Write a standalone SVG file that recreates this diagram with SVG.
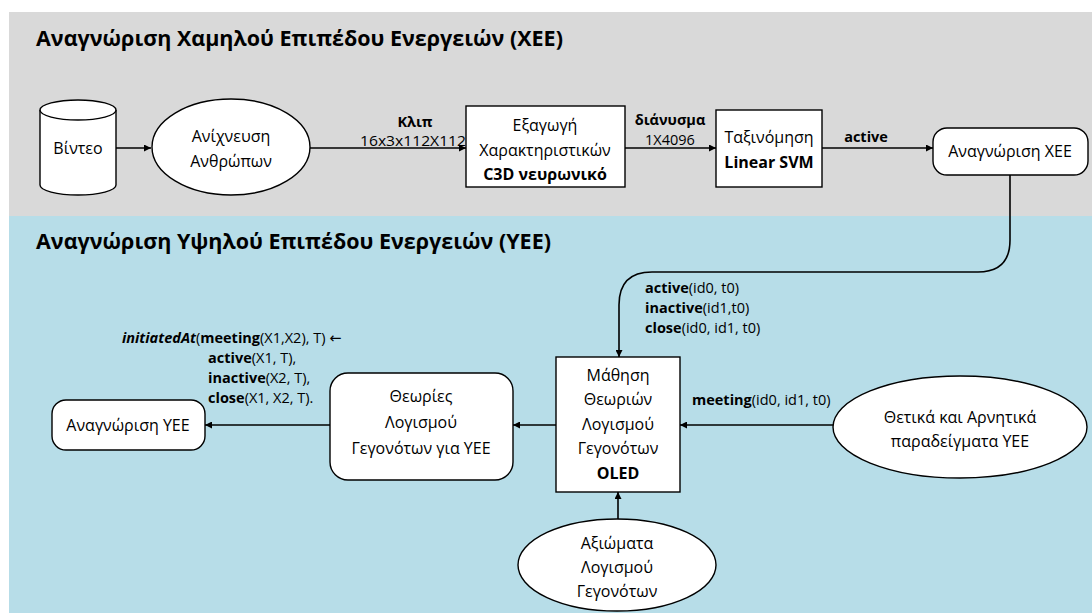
<svg xmlns="http://www.w3.org/2000/svg" width="1092" height="613" viewBox="0 0 1092 613">
<defs>
<marker id="ah" viewBox="0 0 10 10" refX="10" refY="5" markerWidth="7" markerHeight="7" markerUnits="userSpaceOnUse" orient="auto">
<path d="M0,0 L10,5 L0,10 z" fill="#000"/>
</marker>
<style>
.t{font-family:"Open Sans","Noto Sans","DejaVu Sans",sans-serif;font-size:16px;fill:#000;}
.c{text-anchor:middle;}
.b{font-weight:bold;}
.title{font-family:"Open Sans","Noto Sans","DejaVu Sans",sans-serif;font-size:21.5px;font-weight:bold;fill:#000;}
.lbl{font-family:"Open Sans","Noto Sans","DejaVu Sans",sans-serif;font-size:14.5px;fill:#000;}
.n{fill:#fff;stroke:#000;stroke-width:1.4;}
.e{fill:none;stroke:#000;stroke-width:1.6;marker-end:url(#ah);}
</style>
</defs>
<rect x="9" y="12" width="1083" height="204" fill="#d9d9d9"/>
<rect x="9" y="216" width="1083" height="397" fill="#b7dde8"/>
<text class="title" x="36" y="46">Αναγνώριση Χαμηλού Επιπέδου Ενεργειών (ΧΕΕ)</text>
<text class="title" x="36" y="249">Αναγνώριση Υψηλού Επιπέδου Ενεργειών (ΥΕΕ)</text>

<g id="connectors">
<line class="e" x1="116" y1="148" x2="151" y2="148"/>
<line class="e" x1="310" y1="148" x2="466" y2="148"/>
<line class="e" x1="625" y1="148" x2="716" y2="148"/>
<line class="e" x1="822" y1="148" x2="933" y2="148"/>
<path class="e" d="M1010,175 L1010,240 Q1010,272 978,272 L652,272 Q619,272 619,305 L619,357"/>
<line class="e" x1="833" y1="425" x2="680" y2="425"/>
<line class="e" x1="618" y1="519" x2="618" y2="492"/>
<line class="e" x1="556" y1="425" x2="513" y2="425"/>
<line class="e" x1="330" y1="425" x2="205" y2="425"/>
<text class="lbl b c" x="415" y="127">Κλιπ</text>
<text class="lbl c" x="413" y="146" textLength="106" lengthAdjust="spacingAndGlyphs">16x3x112X112</text>
<text class="lbl b c" x="670" y="125">διάνυσμα</text>
<text class="lbl c" x="670" y="145">1Χ4096</text>
<text class="lbl b c" x="866" y="142">active</text>
<text class="lbl" x="645" y="293"><tspan class="b">active</tspan>(id0, t0)</text>
<text class="lbl" x="645" y="313"><tspan class="b">inactive</tspan>(id1,t0)</text>
<text class="lbl" x="645" y="333"><tspan class="b">close</tspan>(id0, id1, t0)</text>
<text class="lbl" x="692" y="405"><tspan class="b">meeting</tspan>(id0, id1, t0)</text>
<text class="lbl" x="122" y="343"><tspan class="b" font-style="italic">initiatedAt</tspan>(<tspan class="b">meeting</tspan>(X1,X2), T) ←</text>
<text class="lbl" x="208" y="363"><tspan class="b">active</tspan>(X1, T),</text>
<text class="lbl" x="208" y="383"><tspan class="b">inactive</tspan>(X2, T),</text>
<text class="lbl" x="208" y="403"><tspan class="b">close</tspan>(X1, X2, T).</text>
</g>

<g id="video">
<path class="n" d="M40,110 L40,185 A38,10 0 0 0 116,185 L116,110 A38,10 0 0 0 40,110 z"/>
<path class="n" fill="none" d="M40,110 A38,10 0 0 0 116,110"/>
<text class="t c" x="78" y="154">Βίντεο</text>
</g>
<g id="detect">
<ellipse class="n" cx="231" cy="147" rx="79" ry="48"/>
<text class="t c" x="231" y="142">Ανίχνευση</text>
<text class="t c" x="231" y="167">Ανθρώπων</text>
</g>
<g id="extract">
<rect class="n" x="466" y="106" width="159" height="81"/>
<text class="t c" x="545" y="131">Εξαγωγή</text>
<text class="t c" x="545" y="156">Χαρακτηριστικών</text>
<text class="t c b" x="545" y="180">C3D νευρωνικό</text>
</g>
<g id="classify">
<rect class="n" x="716" y="110" width="106" height="77"/>
<text class="t c" x="769" y="143">Ταξινόμηση</text>
<text class="t c b" x="769" y="168">Linear SVM</text>
</g>
<g id="xee">
<rect class="n" x="933" y="128" width="155" height="47" rx="14"/>
<text class="t c" x="1010" y="157">Αναγνώριση ΧΕΕ</text>
</g>
<g id="oled">
<rect class="n" x="556" y="357" width="124" height="135"/>
<text class="t c" x="618" y="381">Μάθηση</text>
<text class="t c" x="618" y="405">Θεωριών</text>
<text class="t c" x="618" y="430">Λογισμού</text>
<text class="t c" x="618" y="454">Γεγονότων</text>
<text class="t c b" x="618" y="479">OLED</text>
</g>
<g id="examples">
<ellipse class="n" cx="960" cy="427" rx="127" ry="51"/>
<text class="t c" x="960" y="423">Θετικά και Αρνητικά</text>
<text class="t c" x="960" y="447">παραδείγματα ΥΕΕ</text>
</g>
<g id="axioms">
<ellipse class="n" cx="617" cy="565" rx="99" ry="46"/>
<text class="t c" x="617" y="549">Αξιώματα</text>
<text class="t c" x="617" y="573">Λογισμού</text>
<text class="t c" x="617" y="597">Γεγονότων</text>
</g>
<g id="theories">
<rect class="n" x="330" y="373" width="183" height="107" rx="18"/>
<text class="t c" x="421" y="402">Θεωρίες</text>
<text class="t c" x="421" y="428">Λογισμού</text>
<text class="t c" x="421" y="454">Γεγονότων για ΥΕΕ</text>
</g>
<g id="yee">
<rect class="n" x="52" y="400" width="153" height="50" rx="14"/>
<text class="t c" x="128" y="431">Αναγνώριση ΥΕΕ</text>
</g>
</svg>
